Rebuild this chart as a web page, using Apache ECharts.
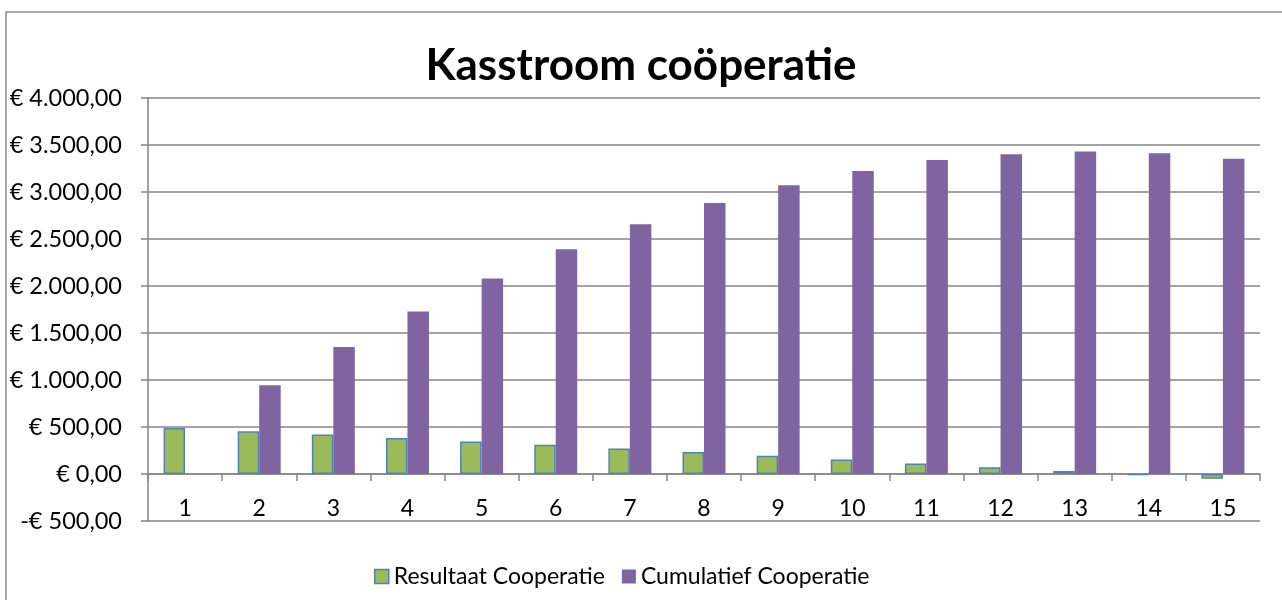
<!DOCTYPE html>
<html>
<head>
<meta charset="utf-8">
<script src="https://cdn.jsdelivr.net/npm/echarts@6/dist/echarts.min.js"></script>
<style>html,body{margin:0;padding:0;background:#fff;}#c{width:1282px;height:600px;}</style>
</head>
<body>
<div id="c"></div>
<script>
const categories = ['1','2','3','4','5','6','7','8','9','10','11','12','13','14','15'];
const resultaat = [490, 455, 420, 384, 347, 311, 272, 233, 194, 153, 113, 73, 33, -8, -50];
const cumulatief = [null, 943, 1351, 1730, 2079, 2390, 2656, 2883, 3071, 3223, 3340, 3401, 3430, 3412, 3355];
const yTicks = { min: -500, max: 4000, interval: 500 };

function euro(v) {
  const neg = v < 0;
  const a = Math.abs(v);
  const intPart = Math.floor(a).toString().replace(/\B(?=(\d{3})+(?!\d))/g, '.');
  const s = '€ ' + intPart + ',00';
  return neg ? '-' + s : s;
}

const FONT = 'Lato';
const chart = echarts.init(document.getElementById('c'), null, { renderer: 'canvas' });
chart.setOption({
  animation: false,
  backgroundColor: '#ffffff',
  title: {
    text: 'Kasstroom coöperatie',
    left: 'center',
    top: 39,
    textStyle: { fontFamily: FONT, fontWeight: 'bold', fontSize: 44, color: '#000' }
  },
  graphic: [{
    type: 'rect',
    shape: { x: 6, y: 12, width: 1300, height: 620 },
    style: { fill: 'none', stroke: '#8c8c8c', lineWidth: 1.5 },
    silent: true
  }],
  legend: {
    bottom: 7,
    left: 369,
    itemWidth: 14,
    itemHeight: 14,
    itemGap: 17,
    textStyle: { fontFamily: FONT, fontSize: 23, color: '#000' },
    data: [
      { name: 'Resultaat Cooperatie', icon: 'rect', itemStyle: { color: '#9BBB59', borderColor: '#4F81BD', borderWidth: 1.5 } },
      { name: 'Cumulatief Cooperatie', icon: 'rect', itemStyle: { color: '#8064A2', borderWidth: 0 } }
    ]
  },
  grid: { left: 148, right: 22, top: 98, bottom: 79, containLabel: false },
  xAxis: {
    type: 'category',
    data: categories,
    axisLine: { onZero: true, lineStyle: { color: '#868686', width: 1.5 } },
    axisTick: { show: true, length: 7, lineStyle: { color: '#868686', width: 1.5 } },
    axisLabel: { margin: -24, fontFamily: FONT, fontSize: 23, color: '#000' }
  },
  yAxis: {
    type: 'value',
    min: yTicks.min,
    max: yTicks.max,
    interval: yTicks.interval,
    axisLine: { show: true, lineStyle: { color: '#868686', width: 1.5 } },
    axisTick: { show: true, length: 7, lineStyle: { color: '#868686', width: 1.5 } },
    splitLine: { show: true, lineStyle: { color: '#868686', width: 1.5 } },
    axisLabel: { margin: 26, fontFamily: FONT, fontSize: 23.5, color: '#000', formatter: euro }
  },
  series: [
    {
      name: 'Resultaat Cooperatie',
      type: 'bar',
      data: resultaat,
      barWidth: '29%',
      barGap: '0%',
      itemStyle: { color: '#9BBB59', borderColor: '#4F81BD', borderWidth: 1.5 }
    },
    {
      name: 'Cumulatief Cooperatie',
      type: 'bar',
      data: cumulatief,
      barWidth: '29%',
      barGap: '0%',
      itemStyle: { color: '#8064A2' }
    }
  ]
});
</script>
</body>
</html>
